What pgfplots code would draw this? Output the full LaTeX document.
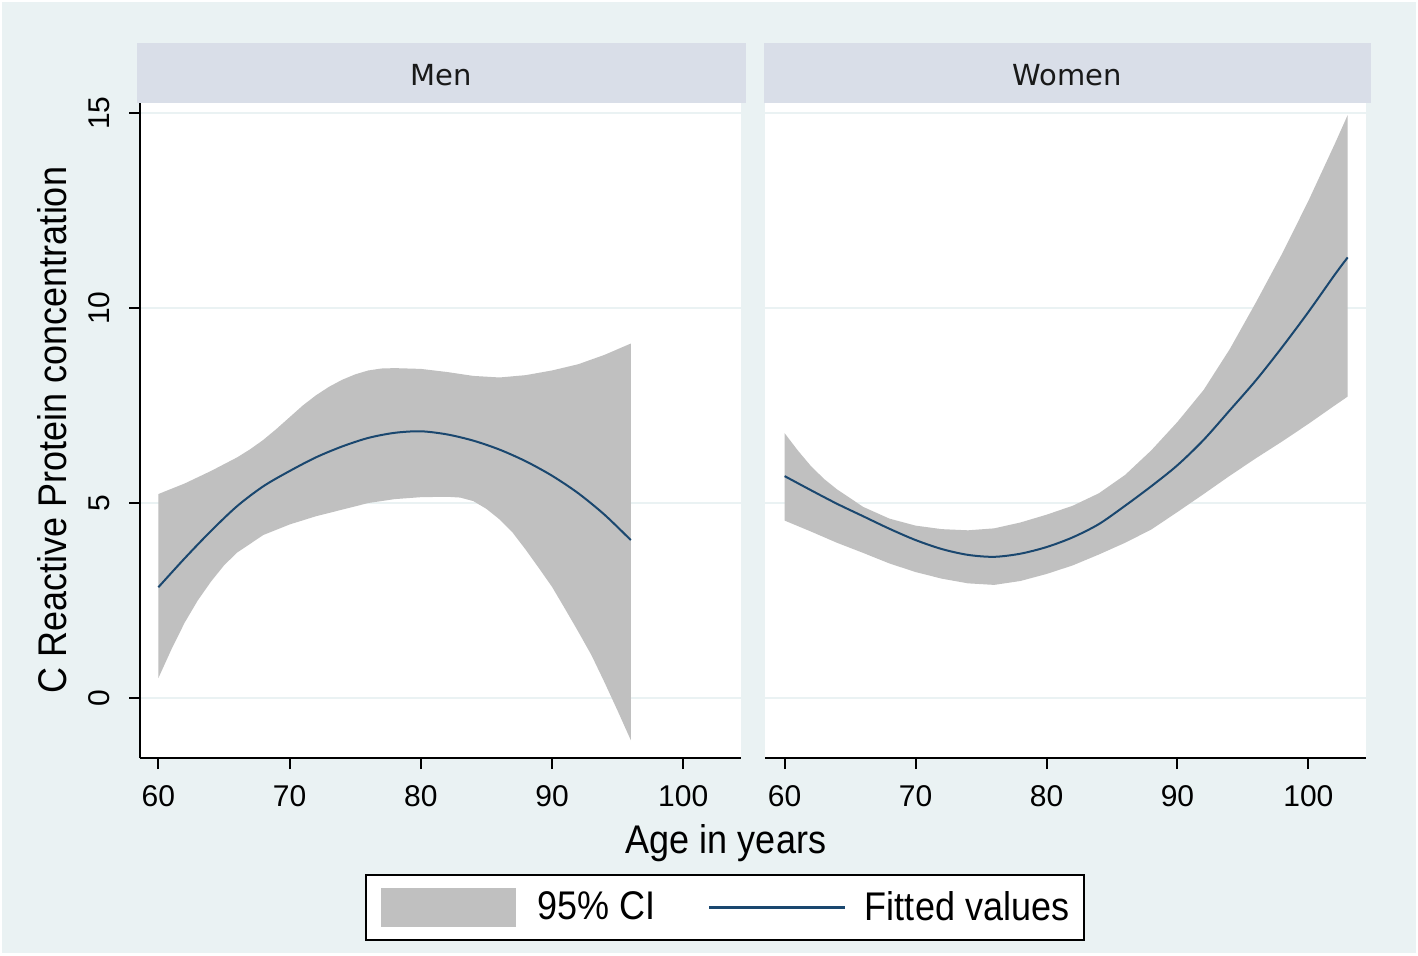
\documentclass[border=0pt]{standalone}
\usepackage{fontspec}
\setmainfont{Liberation Sans}
\newfontfamily\condfont[FakeStretch=0.9]{Liberation Sans}
\newfontfamily\titlefont{DejaVu Sans}
\usepackage{pgfplots}
\usepackage{pgfplotstable}
\pgfplotsset{compat=1.18}

\definecolor{bgcol}{RGB}{234,242,243}
\definecolor{stripcol}{RGB}{217,222,232}
\definecolor{gridcol}{RGB}{234,242,243}
\definecolor{cigray}{RGB}{192,192,192}
\definecolor{navyline}{RGB}{26,71,111}

% 95% CI band, Men: upper bound (age ascending) then lower bound (age descending)
\pgfplotstableread{
age v
60 5.23
62 5.50
64 5.82
66 6.17
67 6.38
68 6.62
69 6.90
70 7.20
71 7.50
72 7.76
73 7.98
74 8.16
75 8.30
76 8.40
77 8.45
78 8.46
80 8.44
82 8.36
84 8.26
86 8.22
88 8.28
90 8.40
92 8.56
94 8.80
96 9.09
96 -1.08
95 -0.33
94 0.40
93 1.10
92 1.70
91 2.28
90 2.85
89 3.33
88 3.80
87 4.24
86 4.58
85 4.85
84 5.05
83 5.14
82 5.16
80 5.15
78 5.10
76 5.00
74 4.83
72 4.66
70 4.45
68 4.18
66 3.73
65 3.40
64 2.98
63 2.50
62 1.93
61 1.25
60 0.51
}\menci

\pgfplotstableread{
age v
60 2.84
62 3.58
64 4.28
66 4.92
68 5.43
70 5.82
72 6.17
74 6.45
76 6.67
78 6.80
80 6.84
82 6.76
84 6.60
86 6.37
88 6.07
90 5.70
92 5.25
94 4.70
96 4.05
}\menfit

% 95% CI band, Women: upper bound then lower bound reversed
\pgfplotstableread{
age v
60 6.79
61 6.35
62 5.95
63 5.62
64 5.35
66 4.90
68 4.60
70 4.42
72 4.33
74 4.30
76 4.35
78 4.50
80 4.70
82 4.93
84 5.25
86 5.72
88 6.35
90 7.08
92 7.90
94 8.95
96 10.15
98 11.40
100 12.75
102 14.20
103 14.95
103 7.73
102 7.50
100 7.03
98 6.58
96 6.15
94 5.70
92 5.23
90 4.77
88 4.32
86 3.98
84 3.68
82 3.40
80 3.18
78 3.00
76 2.90
74 2.94
72 3.06
70 3.23
68 3.45
66 3.72
64 3.98
62 4.27
60 4.55
}\womci

\pgfplotstableread{
age v
60 5.69
62 5.33
64 4.98
66 4.66
68 4.34
70 4.05
72 3.82
74 3.67
76 3.62
78 3.70
80 3.87
82 4.12
84 4.46
86 4.93
88 5.43
90 5.97
92 6.62
94 7.38
96 8.15
98 9.00
100 9.90
102 10.85
103 11.30
}\womfit

\pgfplotsset{
  panel/.style={
    anchor=south west, scale only axis, width=300.5pt, height=327.5pt,
    ymin=-1.54, ymax=15.26,
    xtick={60,70,80,90,100}, ytick={0,5,10,15},
    tick align=outside, major tick length=5.5pt,
    ymajorgrids, grid style={gridcol, line width=1pt},
    axis background/.style={fill=white},
    /pgf/number format/assume math mode=true,
    ticklabel style={font=\fontsize{15}{18}\selectfont, text=black},
    xticklabel style={yshift=-4.5pt},
    axis x line*=bottom, axis y line*=left,
  }
}

\begin{document}
\begin{tikzpicture}
\fill[white] (0pt,0pt) rectangle (709pt,477.5pt);
\fill[bgcol] (1pt,1pt) rectangle (708pt,476.5pt);
\fill[stripcol] (68.5pt,426pt) rectangle (373pt,456pt);
\fill[stripcol] (382pt,426pt) rectangle (685.5pt,456pt);
\node[font=\titlefont\fontsize{14.5}{17}\selectfont, text=black!90] at (220.75pt,440pt) {Men};
\node[font=\titlefont\fontsize{14.5}{17}\selectfont, text=black!90] at (533.75pt,440pt) {Women};

\begin{axis}[panel,
  at={(70pt,98.5pt)},
  xmin=58.6, xmax=104.4,
  axis line style={-, line width=1pt, black},
  tick style={black, line width=1pt},
  yticklabel style={rotate=90, anchor=south, yshift=6pt},
  legend columns=2,
  legend style={at={(axis description cs:0.9734,-0.2282)}, anchor=center,
    draw=black, line width=1pt, fill=white, inner xsep=7.5pt, inner ysep=6.5pt,
    column sep=0pt, row sep=0pt,
    nodes={inner sep=0pt, font=\condfont\fontsize{20}{24}\selectfont}},
]
\addplot[fill=cigray, draw=none,
  legend image code/.code={\fill[cigray] (0pt,-9.75pt) rectangle (67.5pt,9.75pt);}]
  table[x=age,y=v]{\menci} -- cycle;
\addlegendentry{\hspace*{11pt}95\% CI\rule{26pt}{0pt}}
\addplot[navyline, line width=1pt, smooth,
  legend image code/.code={\draw[navyline, line width=1.5pt] (0pt,0pt) -- (68pt,0pt);}]
  table[x=age,y=v]{\menfit};
\addlegendentry{\hspace*{9pt}Fitted values}
\end{axis}

\begin{axis}[panel,
  at={(382.5pt,98.5pt)},
  xmin=58.5, xmax=104.4,
  x axis line style={-, line width=1pt, black},
  y axis line style={draw=none},
  xtick style={black, line width=1pt},
  ytick style={draw=none},
  yticklabels={},
]
\addplot[fill=cigray, draw=none] table[x=age,y=v]{\womci} -- cycle;
\addplot[navyline, line width=1pt, smooth] table[x=age,y=v]{\womfit};
\end{axis}

\node[rotate=90, font=\condfont\fontsize{20}{24}\selectfont] at (26pt,262.5pt) {C Reactive Protein concentration};
\node[anchor=base, font=\condfont\fontsize{20}{24}\selectfont] at (363pt,51pt) {Age in years};
\end{tikzpicture}
\end{document}
